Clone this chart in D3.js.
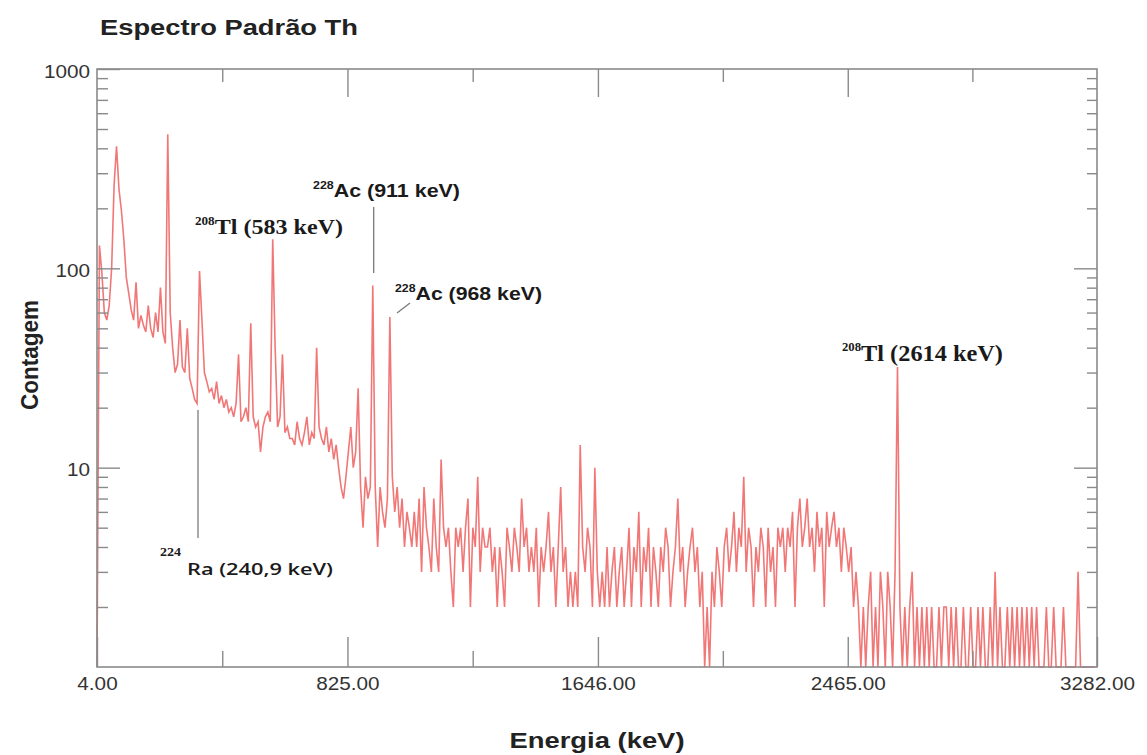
<!DOCTYPE html>
<html>
<head>
<meta charset="utf-8">
<script src="https://cdn.jsdelivr.net/npm/d3@7"></script>
<style>
  body { margin: 0; background: #fff; }
  svg { display: block; }
</style>
</head>
<body>
<div id="chart"></div>
<script>
// spectrum counts, one value per channel (channel 0 = 4 keV, 8 keV per channel)
var startEnergy = 4;
var channelWidth = 8;
var counts = [
  0, 130, 95, 60, 55, 65, 100, 260, 410, 250, 195, 140, 90, 75, 62, 55, 85, 50, 58, 52,
  48, 65, 50, 45, 60, 48, 80, 48, 42, 470, 60, 40, 30, 33, 55, 32, 30, 50, 28, 25,
  22, 21, 97, 55, 30, 27, 24, 25, 22, 27, 21, 23, 20, 22, 19, 20, 18, 21, 37, 17,
  18, 20, 17, 53, 18, 16, 17, 12, 16, 18, 19, 17, 140, 40, 16, 18, 37, 15, 16, 14,
  14, 13, 17, 14, 13, 15, 18, 13, 15, 14, 40, 16, 14, 13, 16, 12, 14, 11, 13, 10,
  8, 7, 9, 12, 16, 10, 12, 25, 8, 5, 9, 7, 8, 82, 8, 4, 8, 6, 5, 7,
  57, 9, 6, 8, 5, 7, 4, 6, 5, 4, 6, 4, 7, 3, 8, 5, 4, 3, 7, 4,
  3, 11, 5, 4, 5, 3, 2, 5, 4, 5, 3, 5, 7, 2, 5, 4, 9, 3, 5, 4,
  4, 5, 3, 4, 2, 4, 3, 2, 5, 4, 3, 5, 4, 3, 7, 4, 5, 3, 4, 3,
  5, 2, 4, 3, 4, 6, 3, 4, 2, 4, 8, 3, 4, 2, 3, 2, 3, 2, 13, 4,
  3, 5, 4, 2, 10, 3, 2, 3, 2, 4, 2, 3, 4, 2, 3, 4, 2, 3, 5, 2,
  4, 3, 6, 2, 4, 3, 5, 2, 4, 3, 2, 4, 3, 5, 4, 2, 3, 4, 7, 3,
  4, 2, 3, 4, 5, 3, 4, 2, 3, 1, 2, 1, 3, 2, 4, 3, 2, 4, 5, 3,
  4, 6, 3, 5, 4, 9, 3, 5, 4, 2, 4, 3, 5, 4, 2, 5, 3, 4, 2, 5,
  4, 5, 3, 5, 4, 6, 2, 5, 7, 4, 5, 7, 4, 5, 3, 6, 4, 5, 2, 6,
  4, 5, 6, 4, 5, 3, 5, 4, 3, 4, 2, 3, 2, 1, 2, 1, 2, 3, 1, 2,
  1, 3, 2, 1, 3, 2, 1, 3, 32, 2, 1, 2, 1, 2, 3, 1, 2, 1, 2, 1,
  2, 1, 2, 1, 1, 2, 1, 2, 2, 1, 2, 1, 2, 1, 1, 2, 1, 1, 2, 1,
  1, 2, 1, 2, 1, 1, 2, 1, 3, 1, 2, 1, 1, 2, 1, 2, 1, 2, 1, 2,
  1, 2, 1, 2, 1, 2, 1, 1, 1, 2, 1, 1, 2, 1, 1, 1, 2, 1, 1, 1,
  1, 1, 3, 1, 1, 1, 1, 1, 1, 1
];

var xDomain = [4, 3282];
var xTicks = [4, 825, 1646, 2465, 3282];
var xMinorTicks = [414.5, 1235.5, 2055.5, 2873.5];
var yDomain = [1, 1000];
var yTicks = [10, 100, 1000];
var yMinorTicks = [2, 3, 4, 5, 6, 7, 8, 9, 20, 30, 40, 50, 60, 70, 80, 90,
                   200, 300, 400, 500, 600, 700, 800, 900];

var titleText = "Espectro Padrão Th";
var xTitle = "Energia (keV)";
var yTitle = "Contagem";

var W = 1147, H = 755;
var margin = {top: 69, right: 50, bottom: 88, left: 97}
  , width = W - margin.left - margin.right
  , height = H - margin.top - margin.bottom;

var x = d3.scaleLinear().domain(xDomain).range([0, width]);
var y = d3.scaleLog().domain(yDomain).range([height, 0]).clamp(true);

var axisColor = "#8a8a8a";

var svg = d3.select("#chart").append("svg")
    .attr("width", W)
    .attr("height", H);

// stretch text a bit wider, the picture is a bit wide
function stretch(sel, k) {
  sel.each(function() {
    var w = this.getComputedTextLength();
    this.setAttribute("textLength", w * k);
    this.setAttribute("lengthAdjust", "spacingAndGlyphs");
  });
}
function fitWidth(sel, w) {
  sel.attr("textLength", w).attr("lengthAdjust", "spacingAndGlyphs");
}

var main = svg.append("g")
    .attr("transform", "translate(" + margin.left + "," + margin.top + ")");

// spectrum line
var line = d3.line()
    .x(function(d, i) { return x(startEnergy + i * channelWidth); })
    .y(function(d) { return y(Math.max(d, 1)); });

main.append("path")
    .datum(counts)
    .attr("d", line)
    .attr("fill", "none")
    .attr("stroke", "#e81c1c")
    .attr("stroke-opacity", 0.6)
    .attr("stroke-width", 1.6)
    .attr("stroke-linejoin", "miter");

// frame
main.append("rect")
    .attr("width", width)
    .attr("height", height)
    .attr("fill", "none")
    .attr("stroke", axisColor)
    .attr("stroke-width", 1.6);

function styleAxis(g) {
  g.select(".domain").remove();
  g.selectAll(".tick line").attr("stroke", axisColor).attr("stroke-width", 1.4);
  g.selectAll(".tick text")
    .attr("fill", "#333")
    .style("font-family", "'Liberation Sans', Arial, sans-serif")
    .style("font-size", "18px");
}

// bottom axis
var gx = main.append("g")
    .attr("transform", "translate(0," + height + ")")
    .call(d3.axisBottom(x).tickValues(xTicks).tickFormat(d3.format(".2f"))
      .tickSize(-30).tickPadding(10));
styleAxis(gx);
gx.selectAll(".tick text").call(stretch, 1.15);

main.append("g")
    .attr("transform", "translate(0," + height + ")")
    .call(d3.axisBottom(x).tickValues(xMinorTicks).tickFormat("").tickSize(-16))
    .call(styleAxis);

// top axis
main.append("g")
    .call(d3.axisTop(x).tickValues(xTicks.slice(1, 4)).tickFormat("").tickSize(-28))
    .call(styleAxis);
main.append("g")
    .call(d3.axisTop(x).tickValues(xMinorTicks).tickFormat("").tickSize(-13))
    .call(styleAxis);

// left axis
var gy = main.append("g")
    .call(d3.axisLeft(y).tickValues(yTicks).tickFormat(d3.format("d"))
      .tickSize(-23).tickPadding(7));
styleAxis(gy);
gy.selectAll(".tick text").attr("dy", "0.45em").call(stretch, 1.15);

main.append("g")
    .call(d3.axisLeft(y).tickValues(yMinorTicks).tickFormat("").tickSize(-11))
    .call(styleAxis);

// right axis
main.append("g")
    .attr("transform", "translate(" + width + ",0)")
    .call(d3.axisRight(y).tickValues(yTicks.slice(0, 2)).tickFormat("").tickSize(-23))
    .call(styleAxis);
main.append("g")
    .attr("transform", "translate(" + width + ",0)")
    .call(d3.axisRight(y).tickValues(yMinorTicks).tickFormat("").tickSize(-10))
    .call(styleAxis);

// titles
svg.append("text")
    .attr("x", 100)
    .attr("y", 35)
    .style("font-family", "'Liberation Sans', Arial, sans-serif")
    .style("font-weight", "bold")
    .style("font-size", "22px")
    .attr("fill", "#222")
    .text(titleText)
    .call(fitWidth, 258);

svg.append("text")
    .attr("x", 597)
    .attr("y", 748)
    .attr("text-anchor", "middle")
    .style("font-family", "'Liberation Sans', Arial, sans-serif")
    .style("font-weight", "bold")
    .style("font-size", "22px")
    .attr("fill", "#222")
    .text(xTitle)
    .call(fitWidth, 175);

svg.append("text")
    .attr("transform", "translate(38,355) rotate(-90)")
    .attr("text-anchor", "middle")
    .style("font-family", "'Liberation Sans', Arial, sans-serif")
    .style("font-weight", "bold")
    .style("font-size", "23px")
    .attr("fill", "#222")
    .text(yTitle)
    .call(fitWidth, 110);

// peak annotations
function isoLabel(px, py, iso, name, family, size, supSize, w) {
  var t = svg.append("text")
      .attr("x", px)
      .attr("y", py)
      .style("font-family", family)
      .style("font-weight", "bold")
      .style("font-size", size + "px")
      .attr("fill", "#1a1a1a");
  t.append("tspan")
      .attr("dy", -Math.round(size * 0.42))
      .style("font-size", supSize + "px")
      .text(iso);
  t.append("tspan")
      .attr("dy", Math.round(size * 0.42))
      .text(name);
  t.call(fitWidth, w);
  return t;
}

var serif = "'Liberation Serif', 'Times New Roman', serif";
var sans = "'Liberation Sans', Arial, sans-serif";

isoLabel(195, 234, "208", "Tl (583 keV)", serif, 22, 12, 148);
isoLabel(313, 197, "228", "Ac (911 keV)", sans, 19, 11, 147);
isoLabel(395, 300, "228", "Ac (968 keV)", sans, 19, 11, 147);
isoLabel(842, 361, "208", "Tl (2614 keV)", serif, 23, 12, 161);

// leader lines
svg.append("line")
    .attr("x1", margin.left + x(911)).attr("x2", margin.left + x(911))
    .attr("y1", 207).attr("y2", 273)
    .attr("stroke", "#7a7a7a").attr("stroke-width", 1.3);
svg.append("line")
    .attr("x1", 410).attr("y1", 303).attr("x2", 397).attr("y2", 313)
    .attr("stroke", "#7a7a7a").attr("stroke-width", 1.3);
svg.append("line")
    .attr("x1", 198).attr("y1", 410).attr("x2", 198).attr("y2", 538)
    .attr("stroke", "#555").attr("stroke-width", 1);

// 224Ra label
svg.append("text")
    .attr("x", 160).attr("y", 556)
    .style("font-family", serif)
    .style("font-weight", "bold")
    .style("font-size", "12px")
    .attr("fill", "#1a1a1a")
    .text("224")
    .call(fitWidth, 21);
svg.append("text")
    .attr("x", 187).attr("y", 575)
    .style("font-family", "'Open Sans', 'Noto Sans', sans-serif")
    .style("font-weight", "600")
    .style("font-size", "17px")
    .attr("fill", "#1a1a1a")
    .text("Ra (240,9 keV)")
    .call(fitWidth, 146);
</script>
</body>
</html>
